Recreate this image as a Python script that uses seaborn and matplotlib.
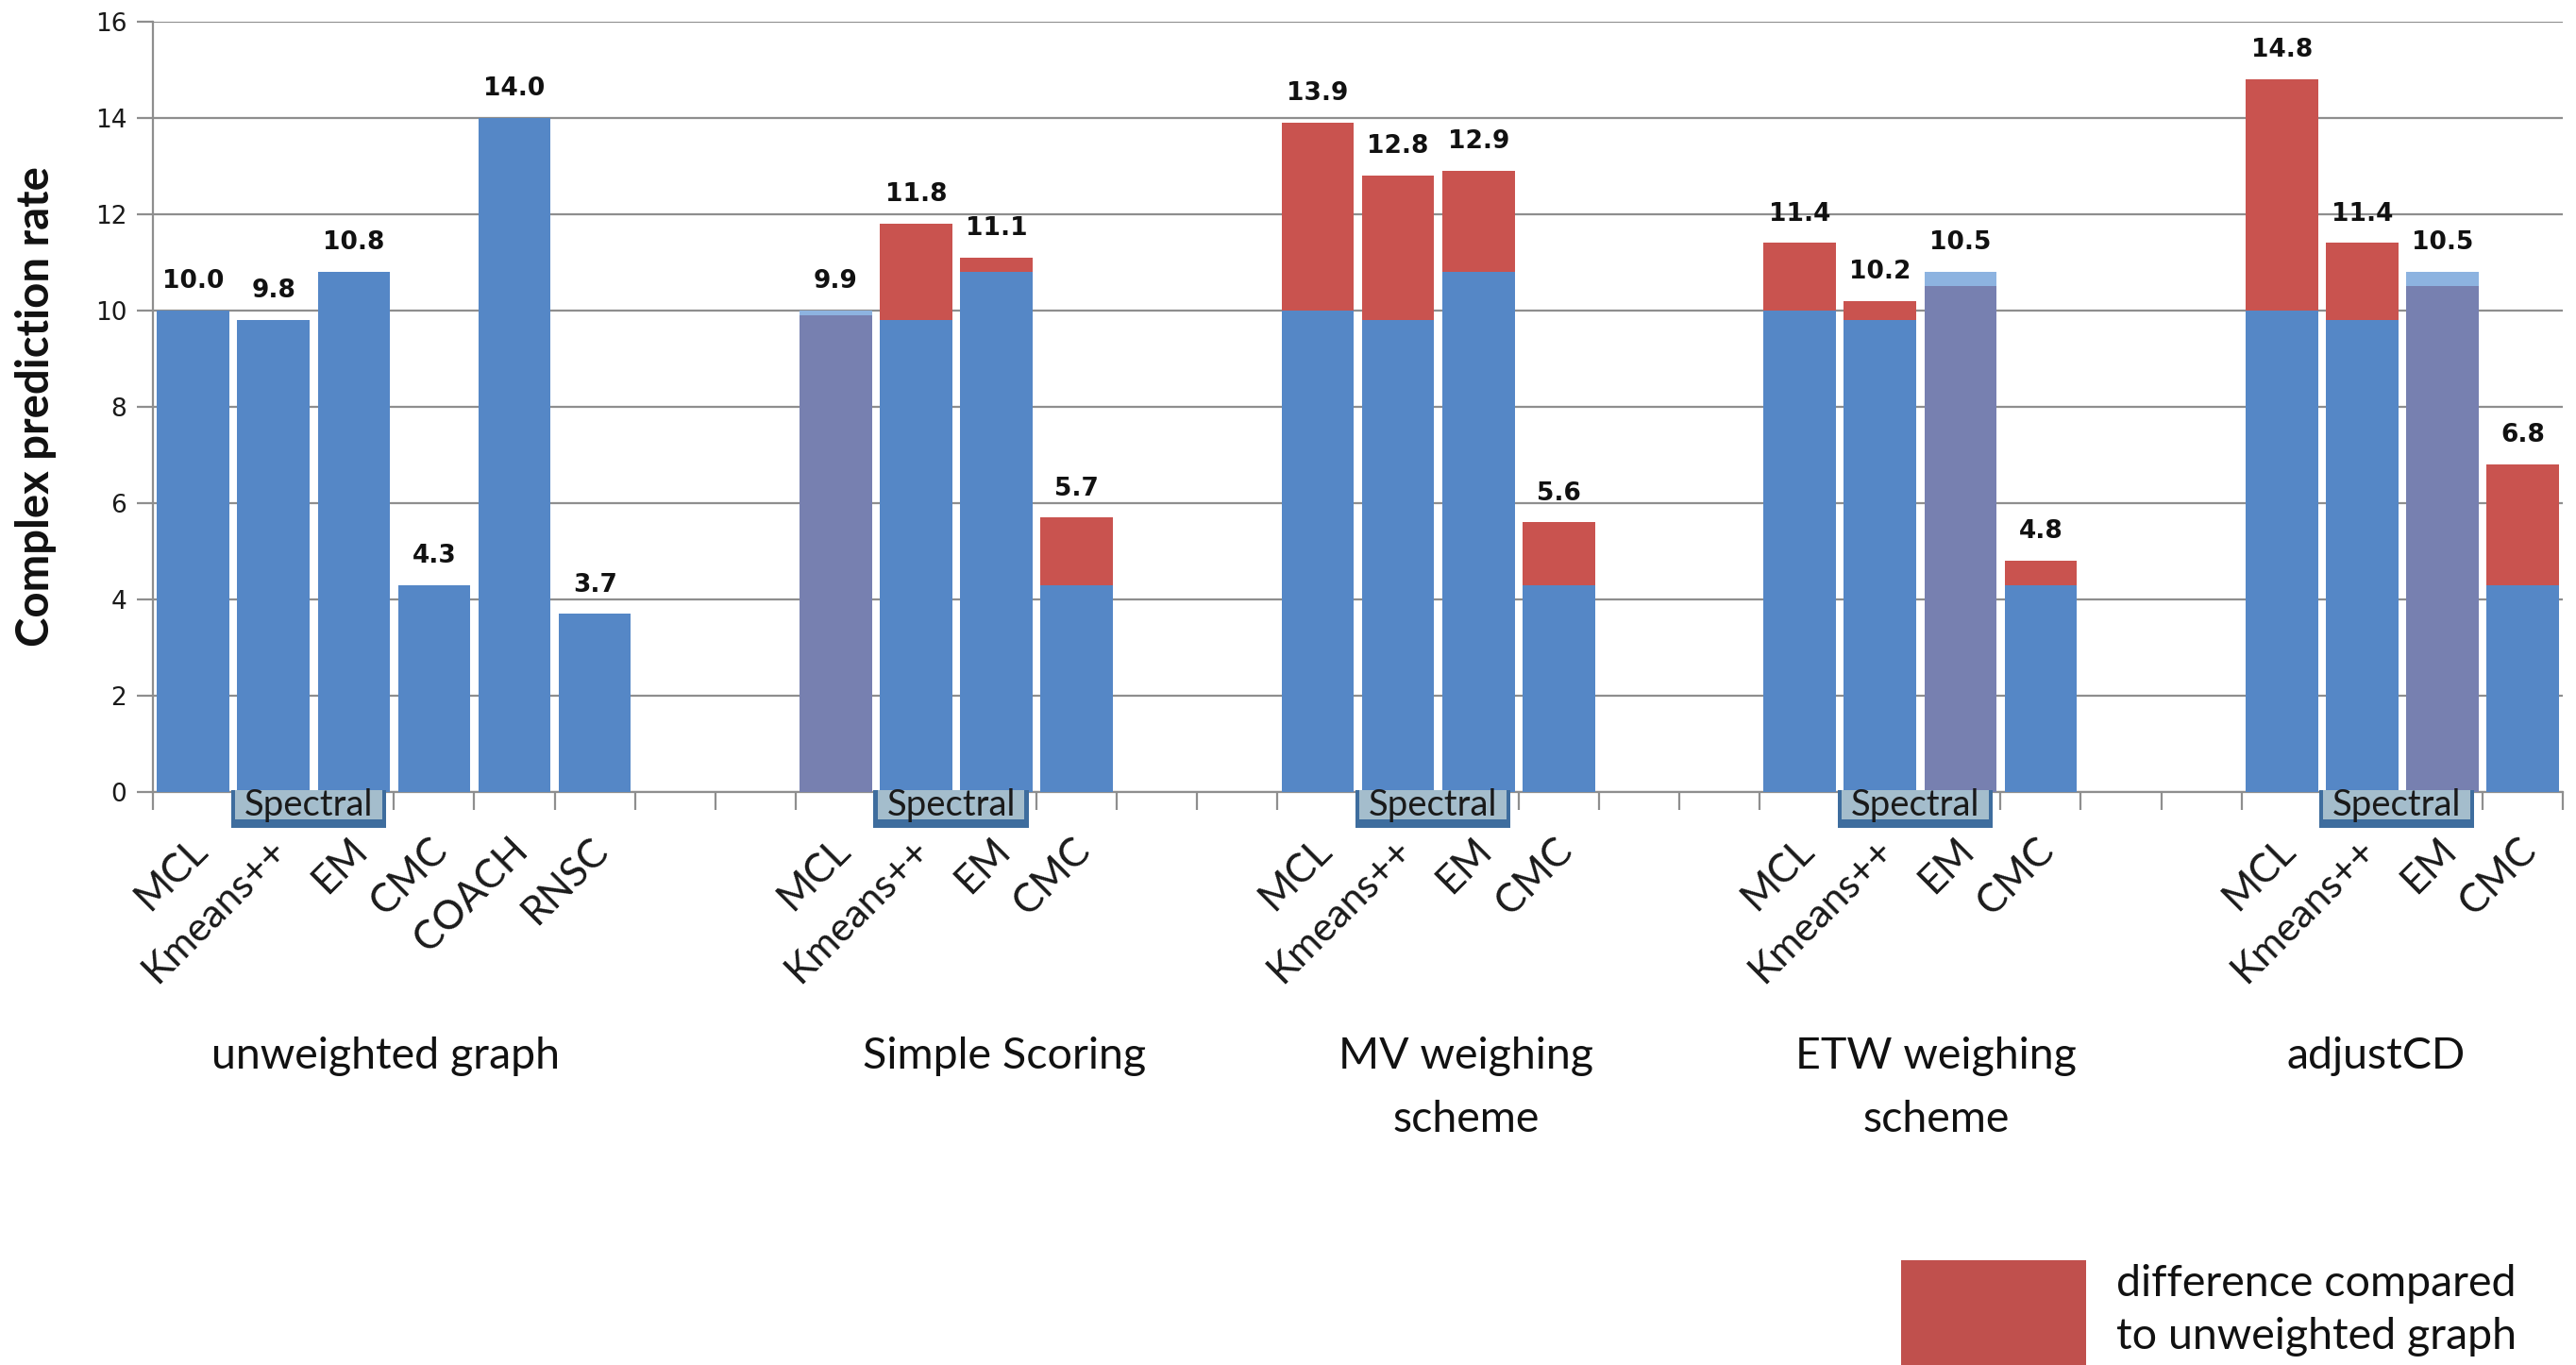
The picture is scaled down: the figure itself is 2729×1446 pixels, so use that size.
import matplotlib
matplotlib.use("Agg")
import matplotlib.pyplot as plt
import matplotlib.transforms as mtransforms
from matplotlib.patches import Rectangle
import numpy as np
import pandas as pd
import seaborn as sns

# ---- data -----------------------------------------------------------
baseline_methods = ["MCL", "Kmeans++", "EM", "CMC", "COACH", "RNSC"]
baseline_rates = [10.0, 9.8, 10.8, 4.3, 14.0, 3.7]

weighted_methods = ["MCL", "Kmeans++", "EM", "CMC"]
scheme_names = ["Simple Scoring", "MV weighing\nscheme", "ETW weighing\nscheme", "adjustCD"]
simple_scoring = [9.9, 11.8, 11.1, 5.7]
mv_scheme = [13.9, 12.8, 12.9, 5.6]
etw_scheme = [11.4, 10.2, 10.5, 4.8]
adjust_cd = [14.8, 11.4, 10.5, 6.8]

group_labels = ["unweighted graph"] + scheme_names
spectral_methods = ["Kmeans++", "EM"]

# ---- style ----------------------------------------------------------
sns.set_style("white")
plt.rcParams["font.family"] = ["Lato", "DejaVu Sans"]

BLUE = "#5587C6"
RED = "#C9534F"
PURPLE = "#7780B0"
LIGHT_BLUE = "#8DB3E0"
GRID = "#8E8E8E"
GAP = 2  # empty slots between groups

# ---- table of bars ----------------------------------------------------
rows = []
for i, (m, v) in enumerate(zip(baseline_methods, baseline_rates)):
    rows.append(dict(group=0, slot=i, method=m, value=v, base=v))
scheme_values = [simple_scoring, mv_scheme, etw_scheme, adjust_cd]
for j, vals in enumerate(scheme_values):
    start = len(baseline_methods) + GAP + j * (len(weighted_methods) + GAP)
    for k, (m, v) in enumerate(zip(weighted_methods, vals)):
        b = baseline_rates[baseline_methods.index(m)]
        rows.append(dict(group=j + 1, slot=start + k, method=m, value=v, base=b))
df = pd.DataFrame(rows)
df["pos"] = df["slot"] + 0.5
df["upper"] = df[["value", "base"]].max(axis=1)
df["lower"] = df[["value", "base"]].min(axis=1)
df["upper_kind"] = np.where(df["value"] > df["base"], "gain",
                            np.where(df["value"] < df["base"], "loss", "same"))
df["lower_kind"] = np.where(df["value"] < df["base"], "reduced", "base")
n_slots = int(df["slot"].max()) + 1

# ---- figure -----------------------------------------------------------
fig = plt.figure(figsize=(27.29, 14.46), dpi=100)
ax = fig.add_axes([0.0594, 0.4198, 0.9355, 0.5646])

sns.barplot(data=df, x="pos", y="upper", hue="upper_kind", native_scale=True,
            palette={"gain": RED, "loss": LIGHT_BLUE, "same": BLUE},
            dodge=False, width=0.9, errorbar=None, saturation=1,
            linewidth=0, legend=False, ax=ax, zorder=2)
sns.barplot(data=df, x="pos", y="lower", hue="lower_kind", native_scale=True,
            palette={"base": BLUE, "reduced": PURPLE},
            dodge=False, width=0.9, errorbar=None, saturation=1,
            linewidth=0, legend=False, ax=ax, zorder=3)

ax.set_xlim(0, n_slots)
ax.set_ylim(0, 16)
ax.set_axisbelow(True)
ax.yaxis.grid(True, color=GRID, linewidth=1.6)
ax.xaxis.grid(False)
for side in ["top", "right"]:
    ax.spines[side].set_visible(False)
for side in ["left", "bottom"]:
    ax.spines[side].set_color(GRID)
    ax.spines[side].set_linewidth(1.6)

ax.set_yticks(np.arange(0, 17, 2))
ax.set_yticklabels([str(t) for t in range(0, 17, 2)], family="DejaVu Sans")
ax.tick_params(axis="y", length=12, width=1.6, color=GRID, labelsize=19,
               pad=8, labelcolor="#1a1a1a", left=True)

ax.set_xticks(np.arange(0, n_slots + 1))
ax.set_xticklabels([])
ax.tick_params(axis="x", which="major", length=14, width=1.6, color=GRID,
               bottom=True)
ax.set_xticks(df["pos"], labels=df["method"], minor=True)
ax.tick_params(axis="x", which="minor", length=0, pad=40, labelsize=30.5,
               labelcolor="#1a1a1a")
nudge = mtransforms.ScaledTranslation(0.08, 0.0, fig.dpi_scale_trans)
for lbl in ax.get_xticklabels(minor=True):
    lbl.set_rotation(45)
    lbl.set_ha("right")
    lbl.set_va("center")
    lbl.set_rotation_mode("anchor")
    lbl.set_transform(lbl.get_transform() + nudge)

ax.set_xlabel("")
ax.set_ylabel("Complex prediction rate", fontsize=34, fontweight="bold",
              color="#111111")
ax.yaxis.set_label_coords(-0.040, 0.5)

# value labels above each bar
for _, r in df.iterrows():
    ax.annotate(f"{r['value']:.1f}", xy=(r["pos"], r["upper"]),
                xytext=(0, 17), textcoords="offset points",
                ha="center", va="baseline", fontsize=19, fontweight="bold",
                family="DejaVu Sans", color="#111111", zorder=5)

# "Spectral" brackets below the axis
blend = mtransforms.blended_transform_factory(ax.transData, ax.transAxes)
for g in sorted(df["group"].unique()):
    sub = df[(df["group"] == g) & (df["method"].isin(spectral_methods))]
    x0 = sub["slot"].min() - 0.03
    x1 = sub["slot"].max() + 0.9
    ax.add_patch(Rectangle((x0, -0.047), x1 - x0, 0.05, transform=blend,
                           facecolor="#3E6D9E", edgecolor="none",
                           clip_on=False, zorder=6))
    ax.add_patch(Rectangle((x0 + 0.05, -0.036), x1 - x0 - 0.1, 0.039,
                           transform=blend, facecolor="#A4BDCC",
                           edgecolor="none", clip_on=False, zorder=7))
    ax.text((x0 + x1) / 2, -0.017, "Spectral", transform=blend,
            ha="center", va="center", fontsize=27.5, color="#1a1a1a",
            zorder=8, clip_on=False)

# group captions
caption_x = [2.9, 10.6, 16.35, 22.2, 27.67]
caption_tf = mtransforms.blended_transform_factory(ax.transData, fig.transFigure)
for cx, name in zip(caption_x, group_labels):
    ax.text(cx, 0.2405, name, transform=caption_tf, ha="center", va="top",
            fontsize=33.5, color="#111111", linespacing=1.72)

# legend
fig.patches.append(Rectangle((0.738, 0.0), 0.072, 0.077,
                             transform=fig.transFigure, facecolor="#C0504D",
                             edgecolor="none"))
fig.text(0.8215, 0.040, "difference compared\nto unweighted graph",
         ha="left", va="center", fontsize=33.5, color="#111111",
         linespacing=1.42)

fig.savefig("out.png", dpi=100, facecolor="white")
